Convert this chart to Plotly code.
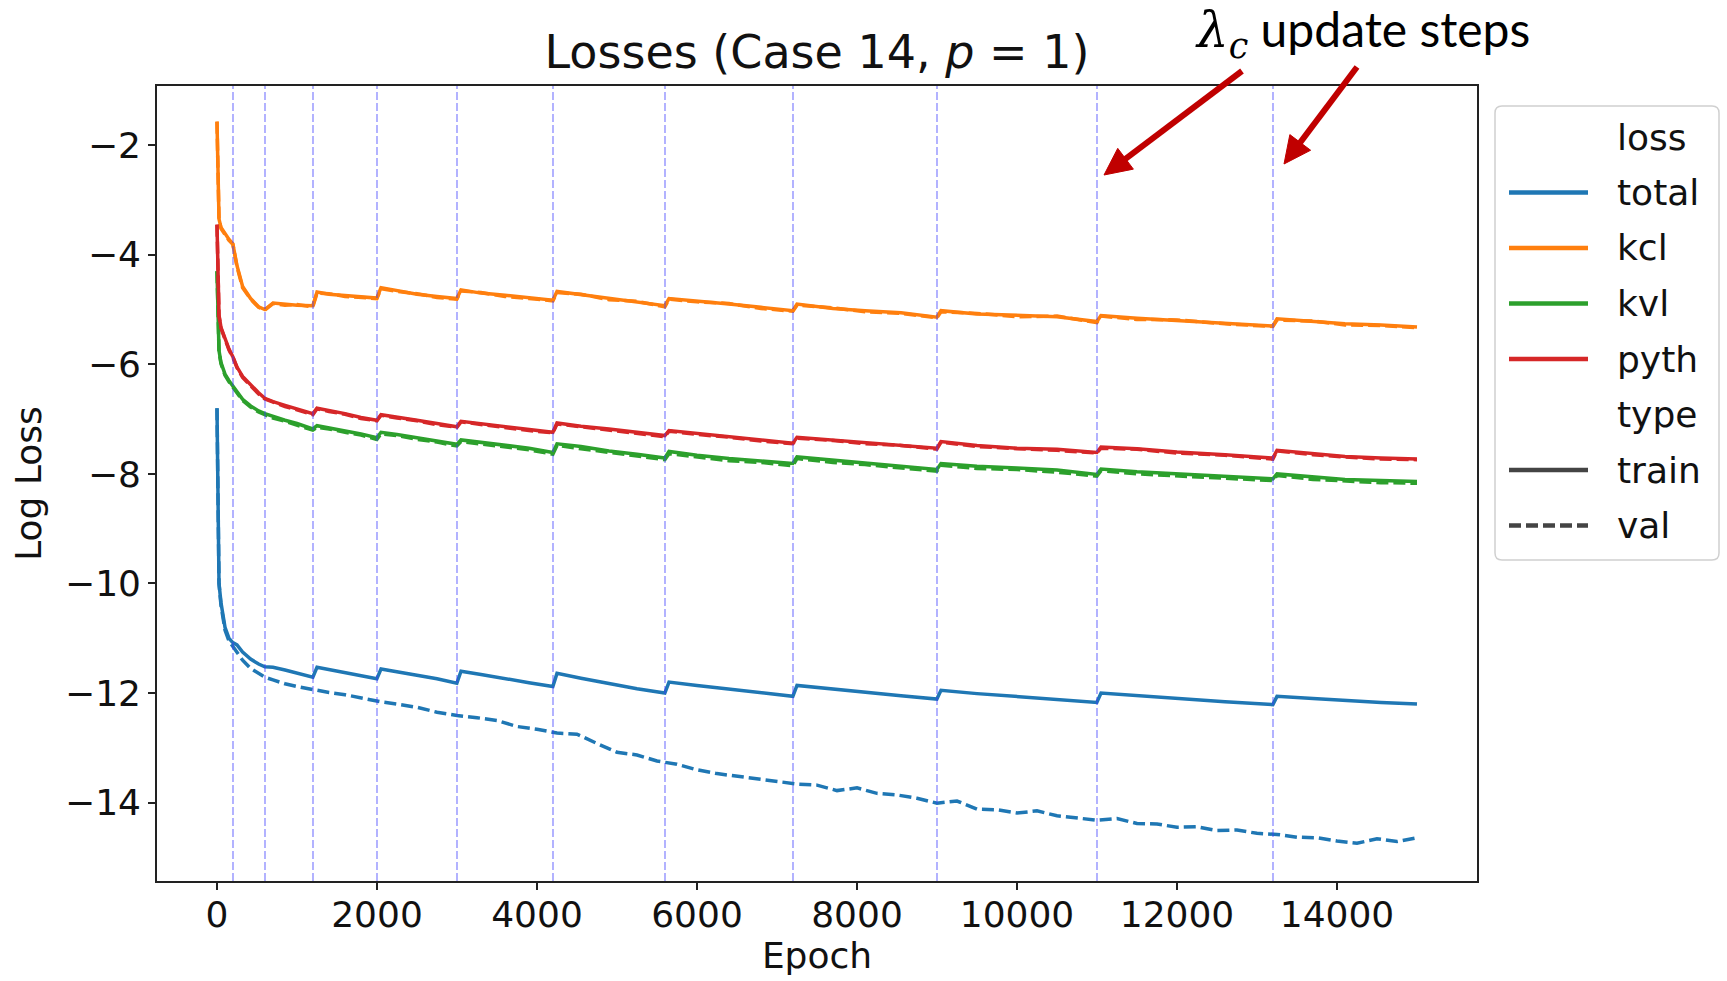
import math
import plotly.graph_objects as go

# ---------------- data ----------------
EPOCHS = [0, 10, 25, 50, 100, 150, 198, 250, 320, 420, 520, 598, 700, 850, 1000, 1198,
          1250, 1400, 1600, 1800, 1998, 2050, 2250, 2500, 2750, 2998, 3050, 3300, 3600, 3900,
          4198, 4250, 4550, 4900, 5250, 5598, 5650, 6000, 6400, 6800, 7198, 7250, 7700, 8100,
          8550, 8998, 9050, 9500, 10000, 10500, 10998, 11050, 11500, 12000, 12600, 13198,
          13250, 13700, 14100, 14550, 15000]

VAL_TOTAL_EPOCHS = [0, 10, 25, 50, 100, 150, 198, 250, 320, 420, 520, 598, 700, 850, 1000, 1198,
                    1250, 1400, 1600, 1800, 1998, 2050, 2250, 2500, 2750, 3000,
                    3250, 3500, 3750, 4000, 4250, 4500, 4750, 5000, 5250, 5500, 5750, 6000,
                    6250, 6500, 6750, 7000, 7250, 7500, 7750, 8000, 8250, 8500, 8750, 9000,
                    9250, 9500, 9750, 10000, 10250, 10500, 10750, 11000, 11250, 11500, 11750,
                    12000, 12250, 12500, 12750, 13000, 13250, 13500, 13750, 14000, 14250,
                    14500, 14750, 15000]

UPDATE_STEPS = [200, 600, 1200, 2000, 3000, 4200, 5600, 7200, 9000, 11000, 13200]

total_train = [-6.80, -9.00, -10.00, -10.35, -10.80, -11.00, -11.08, -11.12, -11.25, -11.38, -11.47, -11.52,
               -11.53, -11.58, -11.63, -11.71, -11.53, -11.57, -11.63, -11.69, -11.74, -11.56, -11.61, -11.67,
               -11.74, -11.82, -11.60, -11.66, -11.74, -11.81, -11.88, -11.64, -11.73, -11.83, -11.92, -12.00,
               -11.80, -11.86, -11.93, -12.00, -12.06, -11.86, -11.93, -11.99, -12.05, -12.11, -11.95, -12.01,
               -12.06, -12.12, -12.17, -12.00, -12.05, -12.10, -12.16, -12.21, -12.06, -12.10, -12.14, -12.17, -12.20]
total_val = [-6.80, -9.00, -10.00, -10.40, -10.85, -11.05, -11.15, -11.25, -11.40, -11.55, -11.65, -11.71,
             -11.76, -11.83, -11.88, -11.94, -11.95, -11.99, -12.03, -12.09, -12.15, -12.16, -12.20, -12.26,
             -12.35, -12.41,
             -12.45, -12.50, -12.61, -12.66, -12.73, -12.75, -12.92, -13.08, -13.13, -13.24, -13.30, -13.40,
             -13.47, -13.52, -13.56, -13.62, -13.66, -13.68, -13.78, -13.73, -13.83, -13.86, -13.92, -14.01,
             -13.97, -14.12, -14.13, -14.19, -14.15, -14.24, -14.28, -14.32, -14.29, -14.38, -14.39,
             -14.45, -14.44, -14.51, -14.50, -14.56, -14.58, -14.63, -14.64, -14.70, -14.74,
             -14.66, -14.71, -14.64]
kcl_train = [-1.57, -2.60, -3.35, -3.50, -3.62, -3.72, -3.80, -4.20, -4.58, -4.80, -4.95, -5.00,
             -4.88, -4.90, -4.92, -4.93, -4.68, -4.72, -4.74, -4.77, -4.79, -4.60, -4.66, -4.72,
             -4.76, -4.80, -4.64, -4.70, -4.74, -4.78, -4.83, -4.67, -4.73, -4.80, -4.86, -4.93,
             -4.80, -4.84, -4.90, -4.96, -5.02, -4.90, -4.98, -5.02, -5.06, -5.14, -5.02, -5.08,
             -5.11, -5.13, -5.22, -5.11, -5.16, -5.20, -5.24, -5.30, -5.17, -5.22, -5.26, -5.28, -5.32]
kcl_val = [-1.57, -2.62, -3.36, -3.52, -3.63, -3.74, -3.81, -4.22, -4.60, -4.81, -4.96, -5.01,
           -4.89, -4.92, -4.91, -4.95, -4.70, -4.71, -4.76, -4.78, -4.80, -4.62, -4.67, -4.71,
           -4.78, -4.81, -4.66, -4.69, -4.76, -4.80, -4.84, -4.69, -4.72, -4.82, -4.85, -4.95,
           -4.81, -4.86, -4.89, -4.98, -5.03, -4.92, -4.97, -5.04, -5.07, -5.15, -5.04, -5.07,
           -5.13, -5.12, -5.24, -5.12, -5.18, -5.19, -5.26, -5.31, -5.19, -5.21, -5.28, -5.29, -5.33]
kvl_train = [-4.30, -5.30, -5.75, -5.97, -6.18, -6.30, -6.40, -6.52, -6.64, -6.76, -6.85, -6.90,
             -6.95, -7.02, -7.08, -7.18, -7.12, -7.16, -7.21, -7.27, -7.34, -7.24, -7.28, -7.34,
             -7.40, -7.46, -7.38, -7.42, -7.48, -7.53, -7.61, -7.45, -7.50, -7.58, -7.64, -7.71,
             -7.59, -7.66, -7.72, -7.76, -7.81, -7.69, -7.75, -7.80, -7.85, -7.92, -7.81, -7.86,
             -7.89, -7.93, -8.01, -7.91, -7.96, -8.00, -8.04, -8.09, -8.00, -8.06, -8.10, -8.12, -8.14]
kvl_val = [-4.30, -5.32, -5.77, -5.99, -6.20, -6.32, -6.42, -6.54, -6.66, -6.78, -6.87, -6.92,
           -6.98, -7.04, -7.11, -7.20, -7.15, -7.18, -7.24, -7.29, -7.37, -7.27, -7.30, -7.37,
           -7.42, -7.49, -7.41, -7.45, -7.51, -7.56, -7.64, -7.48, -7.54, -7.61, -7.68, -7.74,
           -7.63, -7.69, -7.76, -7.79, -7.85, -7.72, -7.79, -7.83, -7.89, -7.95, -7.84, -7.90,
           -7.92, -7.97, -8.04, -7.94, -8.00, -8.03, -8.08, -8.12, -8.03, -8.10, -8.13, -8.16, -8.17]
pyth_train = [-3.45, -4.60, -5.10, -5.33, -5.55, -5.72, -5.86, -6.05, -6.22, -6.38, -6.52, -6.62,
              -6.68, -6.75, -6.82, -6.90, -6.80, -6.84, -6.90, -6.97, -7.02, -6.92, -6.96, -7.02,
              -7.08, -7.14, -7.04, -7.08, -7.14, -7.19, -7.24, -7.07, -7.13, -7.18, -7.24, -7.30,
              -7.21, -7.26, -7.32, -7.38, -7.44, -7.33, -7.38, -7.43, -7.47, -7.53, -7.41, -7.48,
              -7.53, -7.55, -7.61, -7.51, -7.54, -7.60, -7.65, -7.71, -7.57, -7.63, -7.68, -7.71, -7.73]
pyth_val = [-3.45, -4.62, -5.12, -5.34, -5.56, -5.74, -5.87, -6.06, -6.24, -6.39, -6.54, -6.63,
            -6.69, -6.77, -6.83, -6.92, -6.81, -6.86, -6.91, -6.99, -7.03, -6.93, -6.98, -7.03,
            -7.10, -7.15, -7.05, -7.10, -7.15, -7.21, -7.25, -7.09, -7.14, -7.20, -7.25, -7.32,
            -7.22, -7.28, -7.33, -7.40, -7.45, -7.35, -7.39, -7.45, -7.48, -7.55, -7.42, -7.50,
            -7.54, -7.57, -7.62, -7.53, -7.55, -7.62, -7.66, -7.73, -7.58, -7.65, -7.69, -7.73, -7.74]

LOSS_NAMES = ["total", "kcl", "kvl", "pyth"]
TYPE_NAMES = ["train", "val"]
X_TICKS = [0, 2000, 4000, 6000, 8000, 10000, 12000, 14000]
Y_TICKS = [-14, -12, -10, -8, -6, -4, -2]

# ---------------- style ----------------
COLORS = {"total": "#1f77b4", "kcl": "#ff7f0e", "kvl": "#2ca02c", "pyth": "#d62728"}
DASH = {"train": "solid", "val": "12px,5px"}
FONT = "DejaVu Sans"
W, H = 1727, 981
L, R, T, B = 157, 1477, 86, 881   # plot area in pixels


def px(xp):
    return (xp - L) / (R - L)


def py(yp):
    return (B - yp) / (B - T)


series = {
    ("total", "train"): (EPOCHS, total_train), ("total", "val"): (VAL_TOTAL_EPOCHS, total_val),
    ("kcl", "train"): (EPOCHS, kcl_train), ("kcl", "val"): (EPOCHS, kcl_val),
    ("kvl", "train"): (EPOCHS, kvl_train), ("kvl", "val"): (EPOCHS, kvl_val),
    ("pyth", "train"): (EPOCHS, pyth_train), ("pyth", "val"): (EPOCHS, pyth_val),
}

fig = go.Figure()
for name in LOSS_NAMES:
    for typ in TYPE_NAMES:
        xs, ys = series[(name, typ)]
        fig.add_trace(go.Scatter(
            x=xs, y=ys, mode="lines",
            name=f"{name} ({typ})", showlegend=False,
            line=dict(color=COLORS[name], width=3.5, dash=DASH[typ]),
        ))

shapes = []
for s in UPDATE_STEPS:
    shapes.append(dict(type="line", xref="x", yref="paper", x0=s, x1=s, y0=0, y1=1,
                       line=dict(color="rgba(60,60,255,0.6)", width=1.3, dash="8px,3px"),
                       layer="above"))

annotations = []

# ---- custom legend (matplotlib style with section headers) ----
lx0, lx1, ly0, ly1 = 1495, 1719, 106, 560
rad = 7
rx, ry = rad / (R - L), rad / (B - T)
X0, X1, Y0, Y1 = px(lx0), px(lx1), py(ly1), py(ly0)
path = (f"M {X0+rx},{Y1} L {X1-rx},{Y1} Q {X1},{Y1} {X1},{Y1-ry} "
        f"L {X1},{Y0+ry} Q {X1},{Y0} {X1-rx},{Y0} L {X0+rx},{Y0} "
        f"Q {X0},{Y0} {X0},{Y0+ry} L {X0},{Y1-ry} Q {X0},{Y1} {X0+rx},{Y1} Z")
shapes.append(dict(type="path", xref="paper", yref="paper", path=path,
                   line=dict(color="#d0d0d0", width=1.5), fillcolor="rgba(255,255,255,0.85)",
                   layer="above"))

rows = [("loss", None, None)] + [(n, COLORS[n], "solid") for n in LOSS_NAMES] + \
       [("type", None, None), ("train", "#444444", "solid"), ("val", "#444444", "12px,5px")]
row_y0, row_dy = 137, 55.5
for i, (label, col, dash) in enumerate(rows):
    yy = row_y0 + i * row_dy
    if col is not None:
        shapes.append(dict(type="line", xref="paper", yref="paper",
                           x0=px(1509), x1=px(1588), y0=py(yy), y1=py(yy),
                           line=dict(color=col, width=4.5, dash=dash), layer="above"))
    annotations.append(dict(text=label, xref="paper", yref="paper", x=px(1615), y=py(yy),
                            xanchor="left", yanchor="middle", showarrow=False,
                            font=dict(family=FONT, size=36, color="#111111")))

# ---- callout text and arrows ----
annotations.append(dict(
    text="<span style=\"font-family:'DejaVu Serif'; font-size:50px\"><i>λ</i><sub><i>c</i></sub></span> update steps",
    xref="paper", yref="paper", x=px(1362), y=py(33), xanchor="center", yanchor="middle",
    showarrow=False, font=dict(family="Lato", size=48, color="#000000")))

ARROW_COLOR = "#c00000"
for (tip, tail) in [((1104, 175), (1242, 71)), ((1284, 164), (1357, 67))]:
    dx, dy = tip[0] - tail[0], tip[1] - tail[1]
    n = math.hypot(dx, dy)
    ux, uy = dx / n, dy / n
    head_len, head_half = 27, 13
    bx, by = tip[0] - ux * head_len, tip[1] - uy * head_len
    shapes.append(dict(type="line", xref="paper", yref="paper",
                       x0=px(tail[0]), y0=py(tail[1]), x1=px(bx + ux * 3), y1=py(by + uy * 3),
                       line=dict(color=ARROW_COLOR, width=6), layer="above"))
    p1 = (bx - uy * head_half, by + ux * head_half)
    p2 = (bx + uy * head_half, by - ux * head_half)
    tri = (f"M {px(tip[0])},{py(tip[1])} L {px(p1[0])},{py(p1[1])} "
           f"L {px(p2[0])},{py(p2[1])} Z")
    shapes.append(dict(type="path", xref="paper", yref="paper", path=tri,
                       fillcolor=ARROW_COLOR, line=dict(color=ARROW_COLOR, width=1), layer="above"))

fig.update_layout(
    width=W, height=H,
    margin=dict(l=L, r=W - R, t=T, b=H - B, pad=0),
    paper_bgcolor="white", plot_bgcolor="white",
    title=dict(text="Losses (Case 14, <i>p</i> = 1)", x=px((L + R) / 2), xref="paper",
               y=1 - 52 / H, yref="container", xanchor="center", yanchor="middle",
               font=dict(family=FONT, size=46, color="#111111")),
    shapes=shapes, annotations=annotations,
    xaxis=dict(range=[-750, 15750], tickmode="array", tickvals=X_TICKS,
               ticktext=[str(v) for v in X_TICKS],
               title=dict(text="Epoch", standoff=6, font=dict(family=FONT, size=36, color="#111111")),
               automargin=True,
               showgrid=False, zeroline=False, showline=True, mirror=True,
               linecolor="#222222", linewidth=1.6, ticks="outside", ticklen=7, tickwidth=1.6,
               ticklabelstandoff=-6,
               tickcolor="#222222", tickfont=dict(family=FONT, size=36, color="#111111")),
    yaxis=dict(range=[-15.43, -0.92], tickmode="array", tickvals=Y_TICKS,
               ticktext=[("\u2212" + str(-v)) if v < 0 else str(v) for v in Y_TICKS],
               title=dict(text="Log Loss", standoff=12, font=dict(family=FONT, size=36, color="#111111")),
               automargin=True,
               showgrid=False, zeroline=False, showline=True, mirror=True,
               linecolor="#222222", linewidth=1.6, ticks="outside", ticklen=7, tickwidth=1.6,
               tickcolor="#222222", tickfont=dict(family=FONT, size=36, color="#111111")),
)

fig.write_html("out.html", config={"displayModeBar": False},
               post_script="document.body.style.margin='0';document.body.style.overflow='hidden';")
